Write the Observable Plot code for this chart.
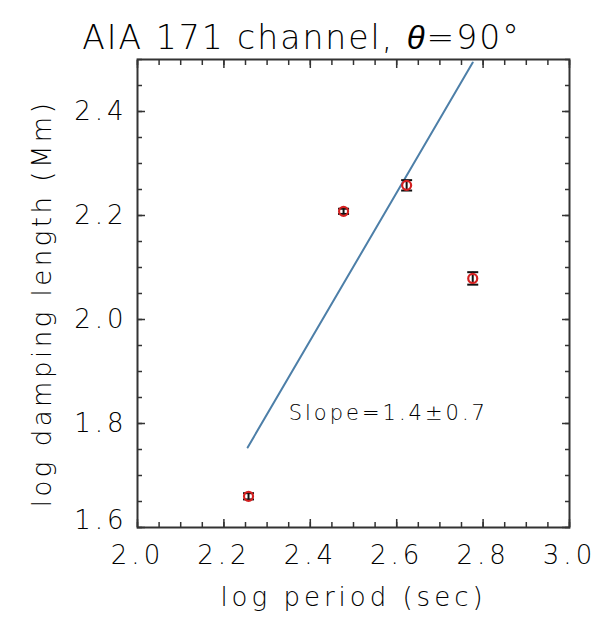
<!DOCTYPE html>
<html><head><meta charset="utf-8">
<script src="https://cdn.jsdelivr.net/npm/d3@7"></script>
<script src="https://cdn.jsdelivr.net/npm/@observablehq/plot@0.6"></script>
<style>
body{margin:0;background:#fff}
svg text{font-family:"DejaVu Sans",sans-serif;font-weight:300}
g[aria-label="x-axis tick label"] text, g[aria-label="y-axis tick label"] text{letter-spacing:4px}
.title text{letter-spacing:2px}
.xtitle text{letter-spacing:4px}
.ytitle text{letter-spacing:3.5px}
.slope text{letter-spacing:3px}
.title tspan.theta{font-family:"Liberation Sans",sans-serif;font-style:italic;font-weight:400}
</style>
</head><body><div id="chart"></div>
<script>
// data
const logPeriod  = [2.257, 2.477, 2.623, 2.776];
const logDamping = [1.660, 2.208, 2.258, 2.079];
const dampingErr = [0.006, 0.005, 0.010, 0.012];
const fitPeriod  = [2.255, 2.776];
const fitDamping = [1.754, 2.494];
const xMajor = [2.0, 2.2, 2.4, 2.6, 2.8, 3.0];
const yMajor = [1.6, 1.8, 2.0, 2.2, 2.4];
const xMinor = d3.ticks(2, 3, 20);
const yMinor = d3.ticks(1.6, 2.5, 18);
const titleText = "AIA 171 channel, θ=90°";
const xTitle = "log period (sec)";
const yTitle = "log damping length (Mm)";
const slopeText = "Slope=1.4±0.7";

const pts = logPeriod.map((x, i) => ({x, y: logDamping[i], lo: logDamping[i] - dampingErr[i], hi: logDamping[i] + dampingErr[i]}));
const fit = fitPeriod.map((x, i) => ({x, y: fitDamping[i]}));
const cap = {draw(ctx, size) { const w = 5.5; ctx.moveTo(-w, 0); ctx.lineTo(w, 0); }};
const noText = () => "";
const frameColor = "#333";
const textColor = "#000";

const chart = Plot.plot({
  width: 612, height: 625,
  marginLeft: 137, marginRight: 43, marginTop: 59, marginBottom: 98,
  x: {domain: [2, 3]},
  y: {domain: [1.6, 2.5]},
  marks: [
    // minor ticks (inward, all sides)
    Plot.axisX(xMinor, {anchor: "bottom", tickSize: -5, tickFormat: noText, label: null, stroke: frameColor, strokeWidth: 1.5}),
    Plot.axisX(xMinor, {anchor: "top", tickSize: -5, tickFormat: noText, label: null, stroke: frameColor, strokeWidth: 1.5}),
    Plot.axisY(yMinor, {anchor: "left", tickSize: -5, tickFormat: noText, label: null, stroke: frameColor, strokeWidth: 1.5}),
    Plot.axisY(yMinor, {anchor: "right", tickSize: -5, tickFormat: noText, label: null, stroke: frameColor, strokeWidth: 1.5}),
    // major ticks
    Plot.axisX(xMajor, {anchor: "bottom", tickSize: -8, tickFormat: noText, label: null, stroke: frameColor, strokeWidth: 1.5}),
    Plot.axisX(xMajor, {anchor: "top", tickSize: -8, tickFormat: noText, label: null, stroke: frameColor, strokeWidth: 1.5}),
    Plot.axisY(yMajor, {anchor: "left", tickSize: -8, tickFormat: noText, label: null, stroke: frameColor, strokeWidth: 1.5}),
    Plot.axisY(yMajor, {anchor: "right", tickSize: -8, tickFormat: noText, label: null, stroke: frameColor, strokeWidth: 1.5}),
    // tick labels
    Plot.axisX(xMajor, {anchor: "bottom", tickSize: 0, tickPadding: 18, fontSize: 26, tickFormat: d => d.toFixed(1), label: null, fill: textColor}),
    Plot.axisY(yMajor.slice(1), {anchor: "left", tickSize: 0, tickPadding: 10, fontSize: 26, tickFormat: d => d.toFixed(1), label: null, fill: textColor}),
    Plot.axisY(yMajor.slice(0, 1), {anchor: "left", tickSize: 0, tickPadding: 10, dy: -7, fontSize: 26, tickFormat: d => d.toFixed(1), label: null, fill: textColor}),
    Plot.frame({stroke: frameColor, strokeWidth: 2}),
    // fit line
    Plot.line(fit, {x: "x", y: "y", stroke: "#4d7fa8", strokeWidth: 2}),
    // error bars
    Plot.ruleX(pts, {x: "x", y1: "lo", y2: "hi", stroke: "#111", strokeWidth: 2}),
    Plot.dot(pts, {x: "x", y: "lo", symbol: cap, stroke: "#111", strokeWidth: 2}),
    Plot.dot(pts, {x: "x", y: "hi", symbol: cap, stroke: "#111", strokeWidth: 2}),
    Plot.dot(pts, {x: "x", y: "y", r: 4.5, stroke: "#d42020", strokeWidth: 2.2}),
    // annotations
    Plot.text([slopeText], {x: 2.35, y: 1.819, text: d => d, textAnchor: "start", fontSize: 21, fill: textColor, className: "slope"}),
    Plot.text([titleText], {frameAnchor: "top", dx: -52, dy: -34, text: d => d, fontSize: 33, fill: textColor, className: "title"}),
    Plot.text([xTitle], {frameAnchor: "bottom", dy: 78, text: d => d, fontSize: 26, fill: textColor, className: "xtitle"}),
    Plot.text([yTitle], {frameAnchor: "left", textAnchor: "middle", dx: -95, dy: 10, rotate: -90, text: d => d, fontSize: 26, fill: textColor, className: "ytitle"})
  ]
});
document.getElementById("chart").append(chart);
// italic theta in the title
const t = chart.querySelector(".title text");
if (t) {
  const s = t.textContent;
  const i = s.indexOf("θ");
  t.textContent = "";
  const a = document.createElementNS("http://www.w3.org/2000/svg", "tspan"); a.textContent = s.slice(0, i);
  const b = document.createElementNS("http://www.w3.org/2000/svg", "tspan"); b.textContent = "θ"; b.setAttribute("class", "theta");
  const c = document.createElementNS("http://www.w3.org/2000/svg", "tspan"); c.textContent = s.slice(i + 1);
  t.append(a, b, c);
}
</script>
</body></html>
